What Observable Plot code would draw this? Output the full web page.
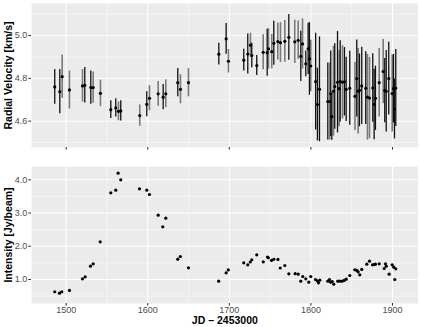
<!DOCTYPE html>
<html><head><meta charset="utf-8">
<script src="https://cdn.jsdelivr.net/npm/d3@7"></script>
<script src="https://cdn.jsdelivr.net/npm/@observablehq/plot@0.6"></script>
<style>body{margin:0;background:#fff;} #chart svg{display:block;}</style>
</head><body><div id="chart"></div><script>
// ---- data ----
const rvJD = [1486,1492.2,1495.1,1504,1520,1522.8,1530.2,1533.1,1542,1554.7,1560.8,1564.1,1566.9,1590.2,1598.8,1602.1,1612.8,1618.9,1622.1,1636.8,1640.1,1649.9,1687.1,1696.1,1698.9,1717.7,1722.6,1725.9,1727.5,1733.6,1741.5,1746.4,1748,1752,1754.5,1759.4,1762.7,1768,1772.9,1780.2,1784.4,1787.6,1789.7,1793.7,1796.6,1798.2,1799.8,1805.8,1808,1810.5,1820.7,1823.1,1824.3,1825.6,1827.6,1829.2,1832.6,1834.6,1835.9,1838.7,1841.1,1843.2,1847.6,1854,1856.2,1857.9,1859.5,1862.3,1867.2,1869.3,1871.8,1875.8,1877.5,1879.1,1883.7,1888.6,1890.5,1892.3,1895.4,1899.6,1901.2,1902.4,1904];
const rvValue = [4.760,4.738,4.808,4.746,4.765,4.768,4.757,4.757,4.730,4.654,4.662,4.646,4.648,4.626,4.679,4.707,4.728,4.712,4.728,4.780,4.749,4.780,4.913,4.985,4.880,4.885,4.914,4.955,4.907,4.860,4.922,4.920,4.938,4.925,4.964,4.972,4.967,4.973,4.992,4.971,4.978,4.903,4.961,4.868,4.938,4.891,4.858,4.785,4.678,4.749,4.692,4.692,4.728,4.621,4.740,4.762,4.782,4.752,4.786,4.782,4.784,4.749,4.754,4.716,4.799,4.740,4.744,4.765,4.754,4.712,4.708,4.755,4.678,4.707,4.780,4.832,4.743,4.740,4.799,4.729,4.752,4.657,4.755];
const rvError = [0.081,0.103,0.101,0.089,0.076,0.083,0.078,0.073,0.062,0.042,0.043,0.044,0.047,0.050,0.058,0.059,0.058,0.059,0.065,0.066,0.068,0.066,0.051,0.072,0.055,0.051,0.093,0.056,0.057,0.047,0.082,0.110,0.095,0.080,0.103,0.086,0.093,0.097,0.107,0.101,0.090,0.117,0.117,0.060,0.120,0.170,0.120,0.226,0.170,0.245,0.180,0.180,0.200,0.110,0.210,0.200,0.237,0.178,0.190,0.171,0.160,0.150,0.173,0.159,0.180,0.200,0.170,0.180,0.170,0.200,0.190,0.160,0.165,0.150,0.160,0.150,0.150,0.190,0.170,0.180,0.160,0.140,0.180];
const rvSource = ["B","B","G","G","G","B","B","G","G","B","B","G","B","G","B","G","G","B","G","B","G","G","B","B","G","B","B","G","B","B","G","B","G","G","B","G","G","G","B","G","G","B","G","B","B","B","G","B","B","B","B","G","B","B","G","B","B","G","B","G","B","B","B","G","B","G","B","B","B","G","G","B","B","B","G","G","B","B","B","G","B","B","B"];

const intJD = [1486,1491.8,1494.6,1504,1520,1523.3,1529.8,1533.1,1541.7,1554.7,1560.8,1563.7,1566.9,1589.9,1598.8,1602.1,1612.8,1618.4,1622.1,1636.8,1639.9,1649.9,1686.9,1696.1,1698.7,1717.7,1722.6,1725.7,1727.5,1733.6,1741.6,1746.8,1747.8,1751.7,1754.5,1759.6,1762.4,1768,1772.9,1780.7,1784.4,1787.6,1790,1793.7,1797.4,1799.8,1805.6,1807.7,1809.3,1810.9,1820.7,1822.8,1824.3,1826.1,1828,1832.9,1835.4,1838.3,1840.8,1843.2,1847.6,1853.8,1856.2,1857.9,1859.9,1862.3,1868.5,1871.8,1875.5,1877.5,1879.1,1883.7,1889.8,1891.4,1892.3,1895.9,1899.6,1901.6,1902.8,1904];
const intValue = [0.630,0.587,0.630,0.669,1.021,1.081,1.400,1.472,2.134,3.609,3.687,4.199,4.000,3.729,3.687,3.558,2.935,2.586,2.844,1.611,1.692,1.352,0.949,1.201,1.286,1.502,1.442,1.526,1.593,1.743,1.532,1.677,1.653,1.572,1.608,1.602,1.346,1.421,1.171,1.174,1.159,0.949,1.090,1.021,0.918,1.090,1.000,0.961,0.900,0.979,0.949,1.000,0.918,0.939,0.858,0.949,0.949,0.949,0.970,1.009,1.120,1.292,1.271,1.231,1.141,1.301,1.460,1.550,1.442,1.451,1.460,1.472,1.331,1.472,1.400,1.159,1.442,1.370,1.000,1.322];

const xTicks = [1500,1600,1700,1800,1900];
const xMinorTicks = [1550,1650,1750,1850];
const rvTicks = [4.6,4.8,5.0];
const rvMinorTicks = [4.5,4.7,4.9,5.1];
const intTicks = [1,2,3,4];
const intMinorTicks = [0.5,1.5,2.5,3.5];

const rvLabel = "Radial Velocity [km/s]";
const intLabel = "Intensity [Jy/beam]";
const xLabel = "JD \u2013 2453000";

// ---- build ----
const rvData = rvJD.map((jd,i)=>({jd, v: rvValue[i], lo: rvValue[i]-rvError[i], hi: rvValue[i]+rvError[i], src: rvSource[i]}));
const intData = intJD.map((jd,i)=>({jd, v: intValue[i]}));

const W = 421;
const xDomain = [1457.5, 1931.5];
const font = "'Liberation Sans', Arial, sans-serif";

function panelBase(yTicks, yMinor) {
  return [
    Plot.frame({fill:"#EBEBEB", stroke:null}),
    Plot.gridX(xMinorTicks, {stroke:"#fff", strokeOpacity:1, strokeWidth:0.5}),
    Plot.gridY(yMinor, {stroke:"#fff", strokeOpacity:1, strokeWidth:0.5}),
    Plot.gridX(xTicks, {stroke:"#fff", strokeOpacity:1, strokeWidth:1}),
    Plot.gridY(yTicks, {stroke:"#fff", strokeOpacity:1, strokeWidth:1})
  ];
}

const topPlot = Plot.plot({
  width: W, height: 160, marginTop: 3, marginBottom: 13, marginLeft: 31, marginRight: 3.3,
  style: {fontFamily: font, background: "transparent"},
  x: {domain: xDomain},
  y: {domain: [4.477, 5.15]},
  marks: [
    ...panelBase(rvTicks, rvMinorTicks),
    Plot.ruleX(rvData, {filter: d => d.src === "G", x: "jd", y1: "lo", y2: "hi", stroke: "#7a7a7a", strokeWidth: 1.6}),
    Plot.ruleX(rvData, {filter: d => d.src === "B", x: "jd", y1: "lo", y2: "hi", stroke: "#111", strokeWidth: 1.3}),
    Plot.dot(rvData, {x: "jd", y: "v", r: 1.6, fill: "#000", stroke: null}),
    Plot.axisY(rvTicks, {tickFormat: d => d.toFixed(1), tickSize: 2.7, tickPadding: 1.5, stroke: "#333", fill: "#4d4d4d", fontSize: 9, label: null}),
    Plot.axisX(xTicks, {tickFormat: () => "", tickSize: 2.7, stroke: "#333", label: null}),
    Plot.text([rvLabel], {text: d => d, frameAnchor: "left", textAnchor: "middle", lineAnchor: "middle", rotate: -90, dx: -23, fontWeight: "bold", fontSize: 10.5, fill: "#000"})
  ]
});

const bottomPlot = Plot.plot({
  width: W, height: 167, marginTop: 6, marginBottom: 24, marginLeft: 31, marginRight: 3.3,
  style: {fontFamily: font, background: "transparent"},
  x: {domain: xDomain},
  y: {domain: [0.277, 4.40]},
  marks: [
    ...panelBase(intTicks, intMinorTicks),
    Plot.dot(intData, {x: "jd", y: "v", r: 1.6, fill: "#000", stroke: null}),
    Plot.axisY(intTicks, {tickFormat: d => d.toFixed(1), tickSize: 2.7, tickPadding: 1.5, stroke: "#333", fill: "#4d4d4d", fontSize: 9, label: null}),
    Plot.axisX(xTicks, {tickFormat: d => String(d), tickSize: 2.7, tickPadding: 0.5, stroke: "#333", fill: "#4d4d4d", fontSize: 9, label: null}),
    Plot.text([intLabel], {text: d => d, frameAnchor: "left", textAnchor: "middle", lineAnchor: "middle", rotate: -90, dx: -23, fontWeight: "bold", fontSize: 10.5, fill: "#000"}),
    Plot.text([xLabel], {text: d => d, frameAnchor: "bottom", textAnchor: "middle", lineAnchor: "middle", dy: 17, fontWeight: "bold", fontSize: 10.5, fill: "#000"})
  ]
});

const chart = document.getElementById("chart");
chart.appendChild(topPlot);
chart.appendChild(bottomPlot);
</script></body></html>
